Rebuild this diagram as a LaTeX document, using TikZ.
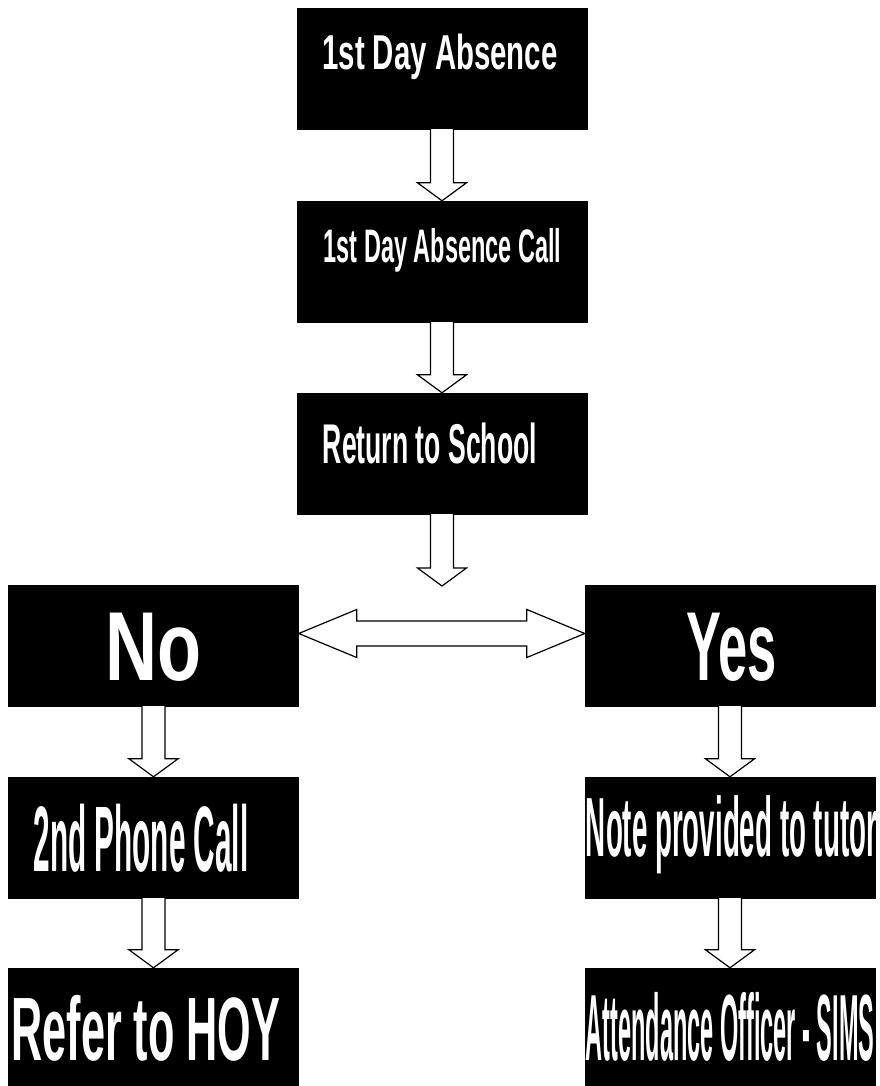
\documentclass[tikz,border=0pt]{standalone}
\usepackage{fontspec}
\setmainfont{Liberation Sans}
\usepackage{graphicx}
\usetikzlibrary{calc}
\newcommand{\squeeze}[2]{\scalebox{#1}[1]{#2}}
%横向压缩文字(\squeeze),比例(#1),文字(#2)
\newcommand{\flowdown}[2]{\draw[blockline] let \p1 = (#1.south), \p2 = (#2) in ({\x1-11.5pt},\y1) -- ({\x1-11.5pt},{\y2+18pt}) -- ({\x1-24.5pt},{\y2+18pt}) -- (\x1,\y2) -- ({\x1+24.5pt},{\y2+18pt}) -- ({\x1+11.5pt},{\y2+18pt}) -- ({\x1+11.5pt},\y1);}
%空心箭头(\flowdown),从节点(#1)底部向下到(#2)

\begin{document}
\begin{tikzpicture}[x = 1pt, y = -1pt,
  flowbox/.style = {fill = black, draw = black, minimum width = 290pt, minimum height = 121pt, inner sep = 0pt},
  flowtext/.style = {text = white, inner sep = 0pt, anchor = base, font = \bfseries\fontsize{#1}{#1}\selectfont},
  blockline/.style = {draw = black, fill = white, line width = 1.2pt, line join = miter}]
\useasboundingbox (0,0) rectangle (880,1086);
%图像范围(useasboundingbox),从(0,0)到(880,1086)
\node[flowbox] (absent) at (442,68.5) {};
\node[flowbox] (call) at (442,261.5) {};
\node[flowbox] (school) at (442,453.5) {};
%中间一列的黑色方框(flowbox):absent、call、school
\node[flowbox] (no) at (153.5,645.5) {};
\node[flowbox] (phone) at (153.5,837.5) {};
\node[flowbox] (hoy) at (153.5,1028.5) {};
%左侧一列(No)的方框
\node[flowbox] (yes) at (730,645.5) {};
\node[flowbox] (note) at (730,837.5) {};
\node[flowbox] (sims) at (730,1028.5) {};
%右侧一列(Yes)的方框
\node[flowtext = 49] (absent-t) at (440,70) {\squeeze{0.60}{1st Day Absence}};
\node[flowtext = 47] (call-t) at (442.5,262) {\squeeze{0.50}{1st Day Absence Call}};
\node[flowtext = 56] (school-t) at (430,463) {\squeeze{0.475}{Return to School}};
\node[flowtext = 98] (no-t) at (154,680) {\squeeze{0.735}{No}};
\node[flowtext = 98] (yes-t) at (731.5,680) {\squeeze{0.535}{Yes}};
\node[flowtext = 93] (phone-t) at (141,871) {\squeeze{0.32}{2nd Phone Call}};
\node[flowtext = 84] (note-t) at (731.5,856) {\squeeze{0.33}{Note provided to tutor}};
\node[flowtext = 90] (hoy-t) at (146,1060) {\squeeze{0.48}{Refer to HOY}};
\node[flowtext = 94] (sims-t) at (730,1060) {\squeeze{0.25}{Attendance Officer - SIMS}};
%白色文字(flowtext = 字号),基线(anchor = base)放在各自位置
\coordinate (split) at (442,586);
%分支处的箭头尖(split)
\flowdown{absent}{call.north}
\flowdown{call}{school.north}
\flowdown{school}{split}
\flowdown{no}{phone.north}
\flowdown{phone}{hoy.north}
\flowdown{yes}{note.north}
\flowdown{note}{sims.north}
%向下的空心箭头
\draw[blockline] let \p1 = ([yshift = 12pt]no.east), \p2 = ([yshift = 12pt]yes.west) in (\p1) -- ({\x1+58pt},{\y1+24pt}) -- ({\x1+58pt},{\y1+12.5pt}) -- ({\x2-58pt},{\y1+12.5pt}) -- ({\x2-58pt},{\y1+24pt}) -- (\p2) -- ({\x2-58pt},{\y1-24pt}) -- ({\x2-58pt},{\y1-12.5pt}) -- ({\x1+58pt},{\y1-12.5pt}) -- ({\x1+58pt},{\y1-24pt}) -- cycle;
%No与Yes之间的双向空心箭头
\end{tikzpicture}
\end{document}
